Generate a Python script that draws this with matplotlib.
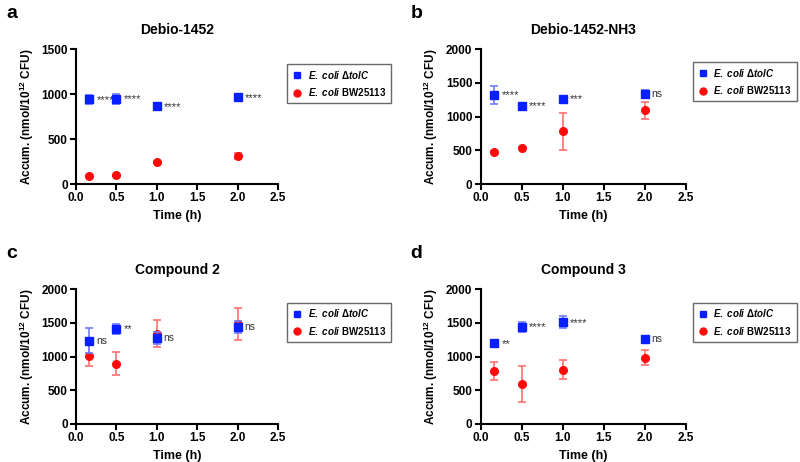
import matplotlib
matplotlib.use("Agg")
import matplotlib.pyplot as plt
from matplotlib.lines import Line2D

plt.rcParams['font.family'] = ['Liberation Sans', 'DejaVu Sans']
plt.rcParams['font.weight'] = 'bold'
plt.rcParams['mathtext.fontset'] = 'custom'
plt.rcParams['mathtext.rm'] = 'Liberation Sans:bold'
plt.rcParams['mathtext.it'] = 'Liberation Sans:italic:bold'
plt.rcParams['mathtext.bf'] = 'Liberation Sans:bold'

times = [0.167, 0.5, 1.0, 2.0]
titles = ["Debio-1452", "Debio-1452-NH3", "Compound 2", "Compound 3"]
panel_letters = ["a", "b", "c", "d"]
ymax = [1500, 2000, 2000, 2000]

tolc_mean = [[940, 950, 865, 965], [1325, 1160, 1265, 1335],
             [1235, 1410, 1270, 1435], [1200, 1440, 1510, 1255]]
tolc_err = [[50, 55, 25, 15], [135, 35, 15, 65],
            [185, 70, 90, 90], [30, 70, 85, 15]]
bw_mean = [[90, 95, 245, 310], [470, 540, 780, 1090],
           [1015, 895, 1340, 1485], [785, 590, 805, 985]]
bw_err = [[10, 10, 10, 30], [15, 15, 280, 120],
          [150, 170, 205, 240], [130, 270, 140, 110]]
signif = [["****", "****", "****", "****"], ["****", "****", "***", "ns"],
          ["ns", "**", "ns", "ns"], ["**", "****", "****", "ns"]]

label_tolc = r"$\mathit{E.\ coli}\ \Delta\mathit{tolC}$"
label_bw = r"$\mathit{E.\ coli}$ BW25113"

fig = plt.figure(figsize=(8, 4.62), dpi=100)
positions = [(0.095, 0.6017, 0.2525, 0.292), (0.601, 0.6017, 0.256, 0.292),
             (0.095, 0.0823, 0.2525, 0.292), (0.601, 0.0823, 0.256, 0.292)]
legend_anchor = [(0.359, 0.862), (0.866, 0.866), (0.359, 0.345), (0.866, 0.345)]
letter_pos = [(0.008, 0.99), (0.513, 0.99), (0.008, 0.47), (0.513, 0.47)]

blue = "#0a1fff"
red = "#ff0a0a"

for i in range(4):
    ax = fig.add_axes(positions[i])
    ax.errorbar(times, tolc_mean[i], yerr=tolc_err[i], fmt='s', color=blue,
                ecolor="#6f7dff", elinewidth=1.2, capsize=3, capthick=1.2,
                markersize=5.5, zorder=3)
    ax.errorbar(times, bw_mean[i], yerr=bw_err[i], fmt='o', color=red,
                ecolor="#ff7070", elinewidth=1.2, capsize=3, capthick=1.2,
                markersize=5.5, zorder=2)
    for t, m, s in zip(times, tolc_mean[i], signif[i]):
        if '*' in s:
            ax.annotate(s, (t, m), xytext=(5, -0.5), textcoords='offset points',
                        fontsize=8, color='#333333', va='center', ha='left',
                        fontweight='normal')
        else:
            ax.annotate(s, (t, m), xytext=(5, 0), textcoords='offset points',
                        fontsize=7.5, color='#333333', va='center', ha='left',
                        fontweight='normal')
    ax.set_xlim(0, 2.5)
    ax.set_ylim(0, ymax[i])
    ax.set_xticks([0, 0.5, 1.0, 1.5, 2.0, 2.5])
    ax.set_xticklabels(["0.0", "0.5", "1.0", "1.5", "2.0", "2.5"])
    ax.set_yticks(range(0, ymax[i] + 1, 500))
    for sp in ['top', 'right']:
        ax.spines[sp].set_visible(False)
    for sp in ['left', 'bottom']:
        ax.spines[sp].set_linewidth(1.5)
    ax.tick_params(direction='out', width=1.5, length=4, labelsize=8.5, pad=2)
    for lab in ax.get_xticklabels() + ax.get_yticklabels():
        lab.set_fontweight('bold')
    ax.set_xlabel("Time (h)", fontsize=9, fontweight='bold', labelpad=4)
    ax.set_ylabel(r"Accum. (nmol/10$^{12}$ CFU)", fontsize=8.5, fontweight='bold')
    ax.set_title(titles[i], fontsize=10, fontweight='bold', pad=11)
    handles = [Line2D([], [], marker='s', color=blue, linestyle='none', markersize=5),
               Line2D([], [], marker='o', color=red, linestyle='none', markersize=5)]
    leg = fig.legend(handles=handles, labels=[label_tolc, label_bw],
                     loc='upper left', bbox_to_anchor=legend_anchor[i],
                     fontsize=7, frameon=True, fancybox=False,
                     edgecolor='#444444', handletextpad=0.6,
                     borderpad=0.5, labelspacing=0.55, handlelength=1.0,
                     borderaxespad=0)
    leg.get_frame().set_linewidth(1.0)
    fig.text(letter_pos[i][0], letter_pos[i][1], panel_letters[i], fontsize=14,
             fontweight='bold', va='top', ha='left')

fig.savefig("out.png", dpi=100)
